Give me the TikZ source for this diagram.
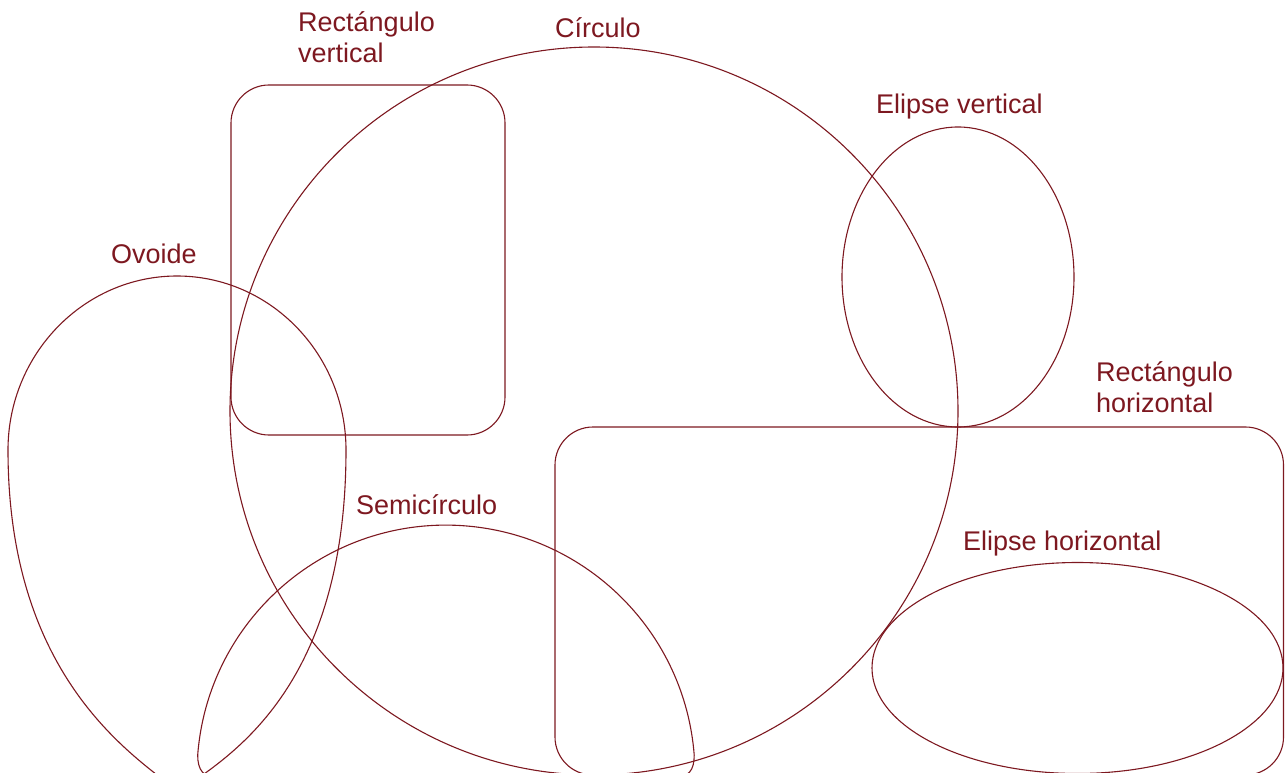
\documentclass[tikz,border=0pt]{standalone}
\usepackage{fontspec}
\setmainfont{Liberation Sans}
\definecolor{wine}{RGB}{125,24,32}
\begin{document}
\begin{tikzpicture}[x=1pt,y=-1pt,
  shape line/.style={draw=wine,line width=1.1pt},
  lbl/.style={text=wine,inner sep=0pt,anchor=base west,align=left,
    font=\fontsize{27}{31}\selectfont}]
\useasboundingbox (0,0) rectangle (1285,773);
% shapes
\draw[shape line] (594,411) circle[radius=364];
\draw[shape line,rounded corners=38pt] (231,85) rectangle (505,435);
\draw[shape line] (958,277) circle[x radius=116,y radius=150];
\draw[shape line,rounded corners=38pt] (555,427) rectangle (1283.5,775);
\draw[shape line] (1077.5,668) circle[x radius=205.5,y radius=105.5];
% semicircle
\draw[shape line] (220,778) .. controls (203,778) and (197.7,770) .. (197.7,755)
  arc[start angle=184.4,end angle=355.6,radius=249]
  .. controls (694.3,770) and (689,778) .. (672,778) -- cycle;
% ovoid
\draw[shape line] (177,276) .. controls (270,276) and (346,354) .. (346,450)
  .. controls (346,700) and (217,762) .. (179,792)
  .. controls (136,757) and (8,680) .. (8,450)
  .. controls (8,354) and (84,276) .. (177,276) -- cycle;
% labels
\node[lbl] (lrv) at (298,63) {Rectángulo\\vertical};
\node[lbl] (lci) at (555,38) {Círculo};
\node[lbl] (lev) at (876,114) {Elipse vertical};
\node[lbl] (lov) at (111,263) {Ovoide};
\node[lbl] (lrh) at (1096,412) {Rectángulo\\horizontal};
\node[lbl] (lse) at (356,514) {Semicírculo};
\node[lbl] (leh) at (963,550) {Elipse horizontal};
\end{tikzpicture}
\end{document}
